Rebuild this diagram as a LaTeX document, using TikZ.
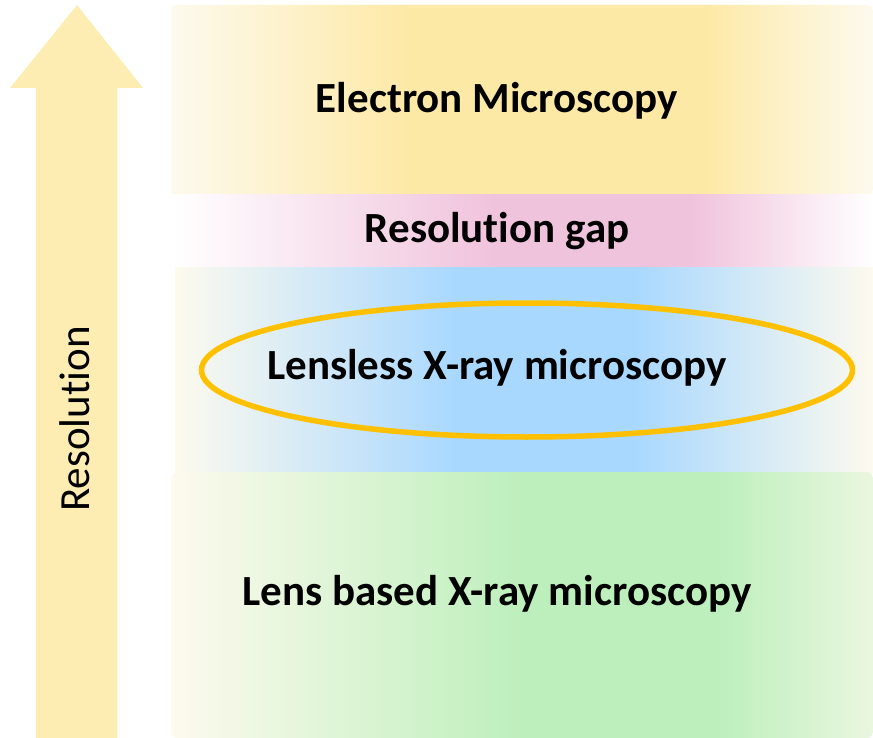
\documentclass[tikz,border=0pt]{standalone}
\usepackage{fontspec}
\setmainfont[Ligatures=NoCommon]{Carlito}
\usetikzlibrary{shapes.geometric}
\definecolor{arrowfill}{HTML}{FEEDB3}
\definecolor{emcol}{HTML}{FDE9A6}
\definecolor{gapcol}{HTML}{F0C3DC}
\definecolor{lenslesscol}{HTML}{A9D8FF}
\definecolor{lenscol}{HTML}{BDEFBC}
\definecolor{edgecol}{HTML}{FDFAEE}
\definecolor{ringcol}{HTML}{FFC000}
% horizontal fades with a broad coloured middle
\pgfdeclarehorizontalshading{emshade}{100bp}{color(0bp)=(edgecol); color(25bp)=(edgecol); color(42bp)=(emcol); color(63bp)=(emcol); color(75bp)=(edgecol); color(100bp)=(edgecol)}
\pgfdeclarehorizontalshading{gapshade}{100bp}{color(0bp)=(white); color(25bp)=(white); color(48bp)=(gapcol); color(62bp)=(gapcol); color(75bp)=(white); color(100bp)=(white)}
\pgfdeclarehorizontalshading{lenslessshade}{100bp}{color(0bp)=(edgecol); color(25bp)=(edgecol); color(45bp)=(lenslesscol); color(58bp)=(lenslesscol); color(75bp)=(edgecol); color(100bp)=(edgecol)}
\pgfdeclarehorizontalshading{lensshade}{100bp}{color(0bp)=(edgecol); color(25bp)=(edgecol); color(50bp)=(lenscol); color(64bp)=(lenscol); color(75bp)=(edgecol!70!lenscol); color(100bp)=(edgecol!70!lenscol)}
\tikzset{
  band/.style={rounded corners=6pt, draw=none},
  bandtext/.style={font=\bfseries\fontsize{43}{50}\selectfont, text=black},
}
\begin{document}
\begin{tikzpicture}[x=1pt, y=-1pt]
\useasboundingbox (0,0) rectangle (873,738);
\fill[white] (0,0) rectangle (873,738);

% rising arrow
\fill[arrowfill] (77,5) -- (143,88) -- (117,88) -- (117,738) -- (36,738) -- (36,88) -- (10,88) -- cycle;
\node[rotate=90, font=\fontsize{43}{50}\selectfont] (res) at (75,419) {Resolution};

% bands
\shade[band, shading=emshade] (171,5) rectangle (873,195);
\shade[band, rounded corners=0pt, shading=gapshade] (172,195) rectangle (873,268);
\shade[band, rounded corners=0pt, shading=lenslessshade] (175,268) rectangle (873,472);
\shade[band, shading=lensshade] (171,472) rectangle (873,738);

\node[bandtext] (em) at (497,101) {Electron Microscopy};
\node[bandtext] (gap) at (497,231) {Resolution gap};
\node[draw=ringcol, line width=5.5pt, ellipse, minimum width=651pt, minimum height=134pt] (ring) at (527,370) {};
\node[bandtext] (lensless) at (497,368) {Lensless X-ray microscopy};
\node[bandtext] (lens) at (497,594) {Lens based X-ray microscopy};
\end{tikzpicture}
\end{document}
